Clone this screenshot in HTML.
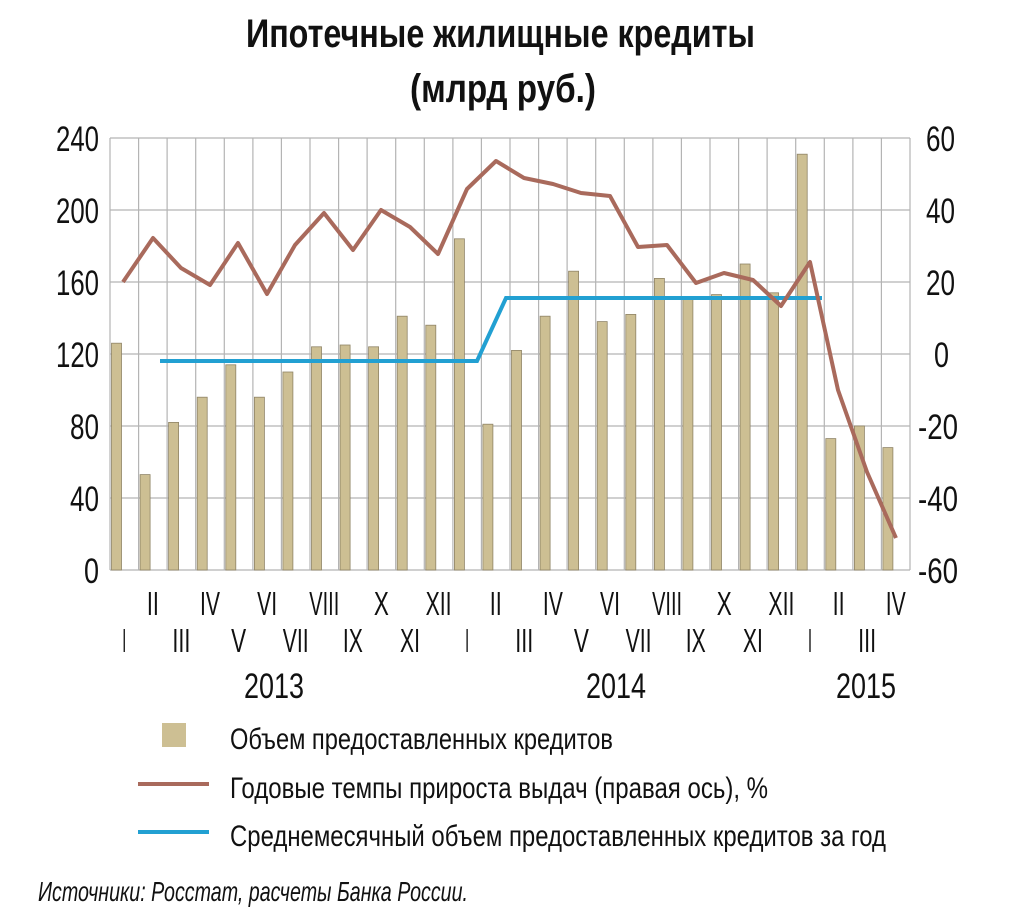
<!DOCTYPE html>
<html><head><meta charset="utf-8"><style>body{margin:0;background:#fff}svg{display:block}</style></head><body>
<svg width="1024" height="922" xmlns="http://www.w3.org/2000/svg" font-family="'Liberation Sans',sans-serif">
<text x="246" y="47" font-size="40" font-weight="bold" textLength="509" lengthAdjust="spacingAndGlyphs" fill="#111">Ипотечные жилищные кредиты</text>
<text x="410" y="102" font-size="40" font-weight="bold" textLength="186" lengthAdjust="spacingAndGlyphs" fill="#111">(млрд руб.)</text>
<g stroke="#b4b4b4" stroke-width="1.2">
<path d="M110 138H910M110 210H910M110 282H910M110 354H910M110 426H910M110 498H910M110 570H910"/>
<path d="M110 138V570M138.6 138V570M167.1 138V570M195.7 138V570M224.3 138V570M252.9 138V570M281.4 138V570M310 138V570M338.6 138V570M367.1 138V570M395.7 138V570M424.3 138V570M452.9 138V570M481.4 138V570M510 138V570M538.6 138V570M567.1 138V570M595.7 138V570M624.3 138V570M652.9 138V570M681.4 138V570M710 138V570M738.6 138V570M767.1 138V570M795.7 138V570M824.3 138V570M852.9 138V570M881.4 138V570M910 138V570"/>
</g>
<g fill="#cdbf93" stroke="#8f8466" stroke-width="0.8">
<rect x="111.5" y="343.2" width="10" height="226.8"/>
<rect x="140.1" y="474.6" width="10" height="95.4"/>
<rect x="168.6" y="422.4" width="10" height="147.6"/>
<rect x="197.2" y="397.2" width="10" height="172.8"/>
<rect x="225.8" y="364.8" width="10" height="205.2"/>
<rect x="254.4" y="397.2" width="10" height="172.8"/>
<rect x="282.9" y="372" width="10" height="198"/>
<rect x="311.5" y="346.8" width="10" height="223.2"/>
<rect x="340.1" y="345" width="10" height="225"/>
<rect x="368.6" y="346.8" width="10" height="223.2"/>
<rect x="397.2" y="316.2" width="10" height="253.8"/>
<rect x="425.8" y="325.2" width="10" height="244.8"/>
<rect x="454.4" y="238.8" width="10" height="331.2"/>
<rect x="482.9" y="424.2" width="10" height="145.8"/>
<rect x="511.5" y="350.4" width="10" height="219.6"/>
<rect x="540.1" y="316.2" width="10" height="253.8"/>
<rect x="568.6" y="271.2" width="10" height="298.8"/>
<rect x="597.2" y="321.6" width="10" height="248.4"/>
<rect x="625.8" y="314.4" width="10" height="255.6"/>
<rect x="654.4" y="278.4" width="10" height="291.6"/>
<rect x="682.9" y="296.4" width="10" height="273.6"/>
<rect x="711.5" y="294.6" width="10" height="275.4"/>
<rect x="740.1" y="264" width="10" height="306"/>
<rect x="768.6" y="292.8" width="10" height="277.2"/>
<rect x="797.2" y="154.2" width="10" height="415.8"/>
<rect x="825.8" y="438.6" width="10" height="131.4"/>
<rect x="854.4" y="426" width="10" height="144"/>
<rect x="882.9" y="447.6" width="10" height="122.4"/>
</g>
<polyline fill="none" stroke="#22a0d2" stroke-width="4" points="160,361 477,361 506,298 822,298"/>
<polyline fill="none" stroke="#a96a5c" stroke-width="4" stroke-linejoin="round" points="123,282 153,238 181,268 210,285 238,243 267,294 295,245 324,213 353,250 381,210 410,227 438,254 467,189 496,161 524,178 553,184 581,193 610,196 638,247 667,245 696,283 724,273 753,280 781,306 810,262 838,390 867,472 896,538"/>
<g font-size="35" fill="#111" text-anchor="end">
<text x="99" y="151" textLength="43" lengthAdjust="spacingAndGlyphs">240</text>
<text x="99" y="223" textLength="43" lengthAdjust="spacingAndGlyphs">200</text>
<text x="99" y="295" textLength="43" lengthAdjust="spacingAndGlyphs">160</text>
<text x="99" y="367" textLength="43" lengthAdjust="spacingAndGlyphs">120</text>
<text x="99" y="439" textLength="29" lengthAdjust="spacingAndGlyphs">80</text>
<text x="99" y="511" textLength="29" lengthAdjust="spacingAndGlyphs">40</text>
<text x="99" y="583" textLength="15" lengthAdjust="spacingAndGlyphs">0</text>
</g>
<g font-size="35" fill="#111">
<text x="926" y="151" textLength="29" lengthAdjust="spacingAndGlyphs">60</text>
<text x="926" y="223" textLength="29" lengthAdjust="spacingAndGlyphs">40</text>
<text x="926" y="295" textLength="29" lengthAdjust="spacingAndGlyphs">20</text>
<text x="934" y="367" textLength="15" lengthAdjust="spacingAndGlyphs">0</text>
<text x="918" y="439" textLength="40" lengthAdjust="spacingAndGlyphs">-20</text>
<text x="918" y="511" textLength="40" lengthAdjust="spacingAndGlyphs">-40</text>
<text x="918" y="583" textLength="40" lengthAdjust="spacingAndGlyphs">-60</text>
</g>
<g font-size="33" fill="#111" text-anchor="middle">
<text x="124.3" y="652" textLength="4" lengthAdjust="spacingAndGlyphs">I</text>
<text x="152.9" y="615" textLength="12" lengthAdjust="spacingAndGlyphs">II</text>
<text x="181.4" y="652" textLength="18" lengthAdjust="spacingAndGlyphs">III</text>
<text x="210" y="615" textLength="20" lengthAdjust="spacingAndGlyphs">IV</text>
<text x="238.6" y="652" textLength="15" lengthAdjust="spacingAndGlyphs">V</text>
<text x="267.1" y="615" textLength="20" lengthAdjust="spacingAndGlyphs">VI</text>
<text x="295.7" y="652" textLength="26" lengthAdjust="spacingAndGlyphs">VII</text>
<text x="324.3" y="615" textLength="30" lengthAdjust="spacingAndGlyphs">VIII</text>
<text x="352.9" y="652" textLength="20" lengthAdjust="spacingAndGlyphs">IX</text>
<text x="381.4" y="615" textLength="15" lengthAdjust="spacingAndGlyphs">X</text>
<text x="410" y="652" textLength="20" lengthAdjust="spacingAndGlyphs">XI</text>
<text x="438.6" y="615" textLength="26" lengthAdjust="spacingAndGlyphs">XII</text>
<text x="467.1" y="652" textLength="4" lengthAdjust="spacingAndGlyphs">I</text>
<text x="495.7" y="615" textLength="12" lengthAdjust="spacingAndGlyphs">II</text>
<text x="524.3" y="652" textLength="18" lengthAdjust="spacingAndGlyphs">III</text>
<text x="552.9" y="615" textLength="20" lengthAdjust="spacingAndGlyphs">IV</text>
<text x="581.4" y="652" textLength="15" lengthAdjust="spacingAndGlyphs">V</text>
<text x="610" y="615" textLength="20" lengthAdjust="spacingAndGlyphs">VI</text>
<text x="638.6" y="652" textLength="26" lengthAdjust="spacingAndGlyphs">VII</text>
<text x="667.1" y="615" textLength="30" lengthAdjust="spacingAndGlyphs">VIII</text>
<text x="695.7" y="652" textLength="20" lengthAdjust="spacingAndGlyphs">IX</text>
<text x="724.3" y="615" textLength="15" lengthAdjust="spacingAndGlyphs">X</text>
<text x="752.9" y="652" textLength="20" lengthAdjust="spacingAndGlyphs">XI</text>
<text x="781.4" y="615" textLength="26" lengthAdjust="spacingAndGlyphs">XII</text>
<text x="810" y="652" textLength="4" lengthAdjust="spacingAndGlyphs">I</text>
<text x="838.6" y="615" textLength="12" lengthAdjust="spacingAndGlyphs">II</text>
<text x="867.1" y="652" textLength="18" lengthAdjust="spacingAndGlyphs">III</text>
<text x="895.7" y="615" textLength="20" lengthAdjust="spacingAndGlyphs">IV</text>
</g>
<g font-size="35" fill="#111" text-anchor="middle">
<text x="274" y="698" textLength="60" lengthAdjust="spacingAndGlyphs">2013</text>
<text x="616" y="698" textLength="60" lengthAdjust="spacingAndGlyphs">2014</text>
<text x="866" y="698" textLength="60" lengthAdjust="spacingAndGlyphs">2015</text>
</g>
<rect x="162" y="723" width="24" height="24" fill="#cdbf93"/>
<line x1="138" y1="784" x2="209" y2="784" stroke="#a96a5c" stroke-width="4"/>
<line x1="138" y1="832" x2="209" y2="832" stroke="#22a0d2" stroke-width="4"/>
<g font-size="30" fill="#111">
<text x="230" y="749" textLength="383" lengthAdjust="spacingAndGlyphs">Объем предоставленных кредитов</text>
<text x="230" y="798" textLength="538" lengthAdjust="spacingAndGlyphs">Годовые темпы прироста выдач (правая ось), %</text>
<text x="230" y="846" textLength="656" lengthAdjust="spacingAndGlyphs">Среднемесячный объем предоставленных кредитов за год</text>
</g>
<text x="38" y="901" font-size="28" font-style="italic" fill="#111" textLength="430" lengthAdjust="spacingAndGlyphs">Источники: Росстат, расчеты Банка России.</text>
</svg>
</body></html>
